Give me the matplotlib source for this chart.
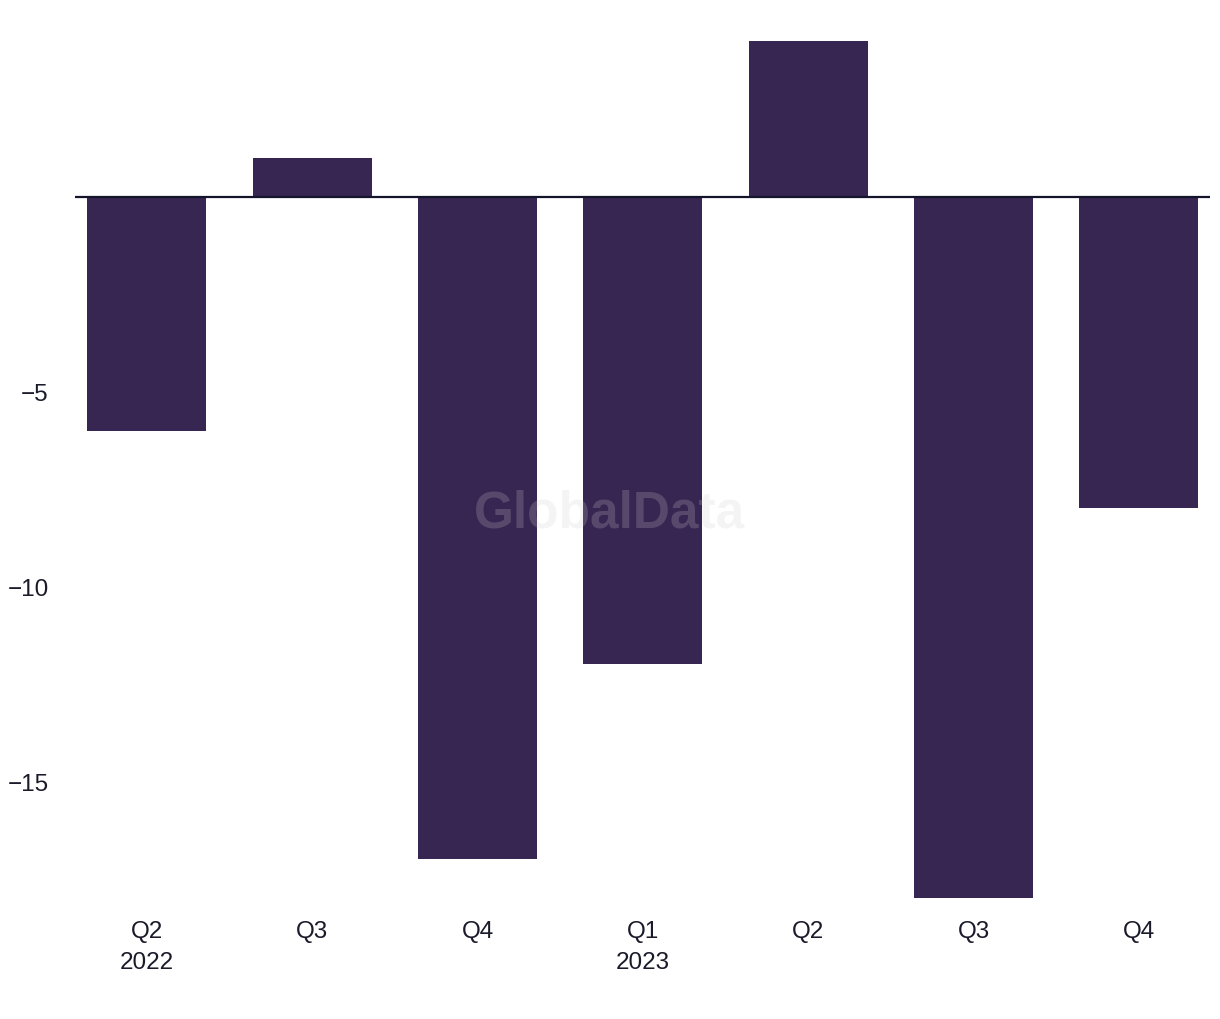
import matplotlib
matplotlib.use("Agg")
import matplotlib.pyplot as plt

quarters = ["Q2", "Q3", "Q4", "Q1", "Q2", "Q3", "Q4"]
years = ["2022", "", "", "2023", "", "", ""]
values = [-6, 1, -17, -12, 4, -18, -8]
yticks = [-5, -10, -15]

plt.rcParams['font.family'] = ['Liberation Sans', 'DejaVu Sans']

fig = plt.figure(figsize=(12.2, 10.2), dpi=100)
ax = fig.add_axes([75/1220, 1 - 899/1020, (1210-75)/1220, (899-42)/1020])

x = list(range(len(values)))
ax.bar(x, values, width=0.72, color="#372552", zorder=2)
ax.axhline(0, color="#14142b", linewidth=1.6, zorder=3)

ax.set_xlim(-0.435, 6.43)
ax.set_ylim(-18, 4)
ax.set_yticks(yticks)
ax.set_yticklabels([f"\u2212{abs(v)}" for v in yticks], fontsize=17.5, color="#1a1a2a")
labels = [q + ("\n" + y if y else "") for q, y in zip(quarters, years)]
ax.set_xticks(x)
ax.set_xticklabels(labels, fontsize=17.5, color="#1a1a2a", linespacing=1.5, va="top")
ax.tick_params(axis="both", length=0)
ax.tick_params(axis="x", pad=16)
ax.tick_params(axis="y", pad=19)
for s in ax.spines.values():
    s.set_visible(False)

fig.text(610/1220, 1 - 514/1020, "GlobalData", ha="center", va="center",
         fontsize=37, fontweight="bold", color="#cfcfcf", alpha=0.21, zorder=10)

fig.savefig("out.png", dpi=100)
